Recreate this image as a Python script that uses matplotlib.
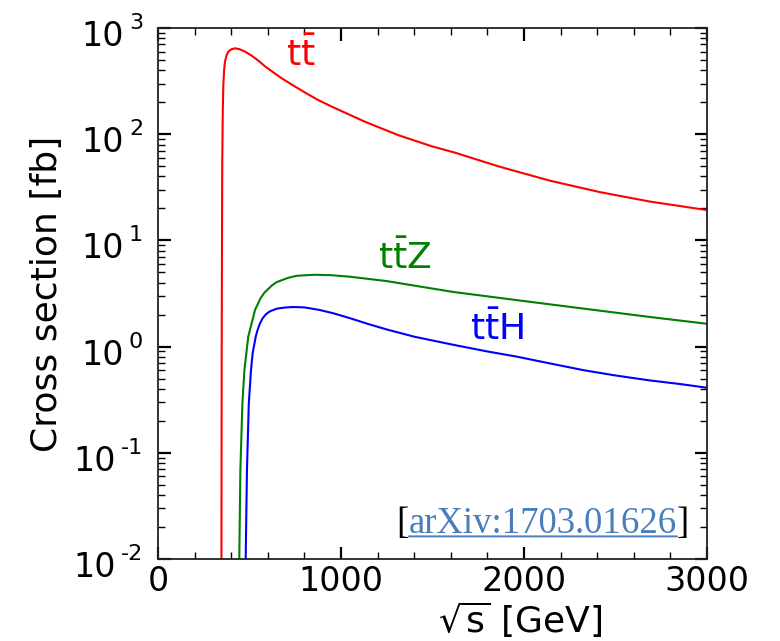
import numpy as np
import matplotlib
matplotlib.use('Agg')
import matplotlib.pyplot as plt
from matplotlib.ticker import MultipleLocator, LogLocator, FixedLocator, NullFormatter

plt.rcParams['font.family'] = 'DejaVu Sans'
plt.rcParams['mathtext.fontset'] = 'dejavusans'
plt.rcParams['font.size'] = 24

# e+e- -> ttbar cross section vs sqrt(s)
sqrts_tt = [346, 347, 348, 349.5, 351, 354, 357, 361, 366, 375, 384, 400, 421, 445,
            475, 510, 550, 585, 630, 676, 740, 803, 870, 949, 1131, 1313, 1496, 1623,
            1869, 2142, 2415, 2689, 3000]
xs_tt = [0.001, 0.05, 1.0, 10, 55, 170, 291, 400, 482, 555, 599, 630, 644, 632,
         600, 552, 490, 435, 382, 336, 287, 247, 212, 182, 131, 98, 77, 67,
         49.3, 36.5, 28.5, 23.2, 19.3]

# ttZ
sqrts_ttz = [442, 444, 450, 461, 472, 493, 530, 560, 580, 603, 625, 649, 712, 760,
             858, 950, 1049, 1250, 1414, 1614, 1960, 2325, 2689, 3000]
xs_ttz = [0.001, 0.01, 0.069, 0.29, 0.60, 1.24, 2.21, 2.85, 3.2, 3.5, 3.8, 4.05,
          4.45, 4.65, 4.75, 4.7, 4.55, 4.14, 3.72, 3.27, 2.74, 2.28, 1.90, 1.64]

# ttH
sqrts_tth = [478, 479, 486, 496, 508, 517, 534, 542, 555, 570, 590, 612, 650, 700,
             740, 800, 885, 958, 1050, 1150, 1250, 1400, 1614, 1800, 1960, 2150,
             2325, 2500, 2689, 2850, 3000]
xs_tth = [0.001, 0.01, 0.069, 0.29, 0.60, 0.865, 1.24, 1.40, 1.62, 1.83, 2.02, 2.15,
          2.28, 2.34, 2.36, 2.34, 2.21, 2.06, 1.85, 1.63, 1.45, 1.24, 1.04, 0.90,
          0.805, 0.69, 0.60, 0.535, 0.48, 0.445, 0.41]

y_decades = [-2, -1, 0, 1, 2, 3]

fig = plt.figure(figsize=(7.8, 6.41), dpi=100)
ax = fig.add_axes([0.2026, 0.1279, 0.7038, 0.8284])

ax.plot(sqrts_tt, xs_tt, color='#ff0000', lw=1.5)
ax.plot(sqrts_ttz, xs_ttz, color='#008000', lw=1.5)
ax.plot(sqrts_tth, xs_tth, color='#0000ff', lw=1.5)

ax.set_yscale('log')
ax.set_xlim(0, 3000)
ax.set_ylim(1e-2, 1e3)

ax.xaxis.set_major_locator(MultipleLocator(1000))
ax.xaxis.set_minor_locator(MultipleLocator(200))
ax.yaxis.set_major_locator(FixedLocator([10.0 ** d for d in y_decades]))
ax.yaxis.set_minor_locator(LogLocator(base=10, subs=np.arange(2, 10), numticks=20))
ax.yaxis.set_minor_formatter(NullFormatter())

ax.tick_params(which='both', direction='in', top=True, right=True, labelsize=24)
ax.tick_params(which='major', length=9, width=1.6)
ax.tick_params(which='minor', length=5, width=1.0)
ax.tick_params(axis='x', pad=4)
ax.tick_params(axis='y', labelleft=False)
for sp in ax.spines.values():
    sp.set_linewidth(1.3)
    sp.set_color('#222222')

# y tick labels: "10" with a small raised exponent
for d in y_decades:
    sup = ax.annotate(str(d), xy=(0, 10.0 ** d), xycoords=('axes fraction', 'data'),
                      xytext=(-15, -1), textcoords='offset pixels',
                      ha='right', va='baseline', fontsize=16)
    ax.annotate('10', xy=(0, 10.0 ** d), xycoords=(sup, 'data'),
                xytext=(-5, -18), textcoords='offset pixels',
                ha='right', va='baseline', fontsize=24)

ax.set_xlabel(r'$\sqrt{\mathrm{s}}$ [GeV]', fontsize=26)
ax.xaxis.set_label_coords(0.66, -0.077)
ax.set_ylabel('Cross section [fb]', fontsize=26)
ax.yaxis.set_label_coords(-0.171, 0.5)

ax.text(781, 557, r'$\mathrm{t\bar{t}}$', color='#ff0000', fontsize=26,
        ha='center', va='center')
ax.text(1350, 6.8, r'$\mathrm{t\bar{t}Z}$', color='#008000', fontsize=26,
        ha='center', va='center')
ax.text(1852, 1.46, r'$\mathrm{t\bar{t}H}$', color='#0000ff', fontsize=26,
        ha='center', va='center')

# reference tag, underlined like a link
ref = ax.text(0.701, 0.066, 'arXiv:1703.01626', transform=ax.transAxes,
              family='Liberation Serif', fontsize=26.5, color='#4a7ebb',
              ha='center', va='center')
ax.annotate('[', xy=(0, 0), xycoords=ref, ha='right', va='bottom',
            family='Liberation Serif', fontsize=26.5, color='black')
ax.annotate(']', xy=(1, 0), xycoords=ref, ha='left', va='bottom',
            family='Liberation Serif', fontsize=26.5, color='black')
ax.annotate('', xy=(1, 0.14), xycoords=ref, xytext=(0, 0.14), textcoords=ref,
            arrowprops=dict(arrowstyle='-', color='#4a7ebb', lw=1.4,
                            shrinkA=0, shrinkB=0))

fig.savefig('out.png', dpi=100)
